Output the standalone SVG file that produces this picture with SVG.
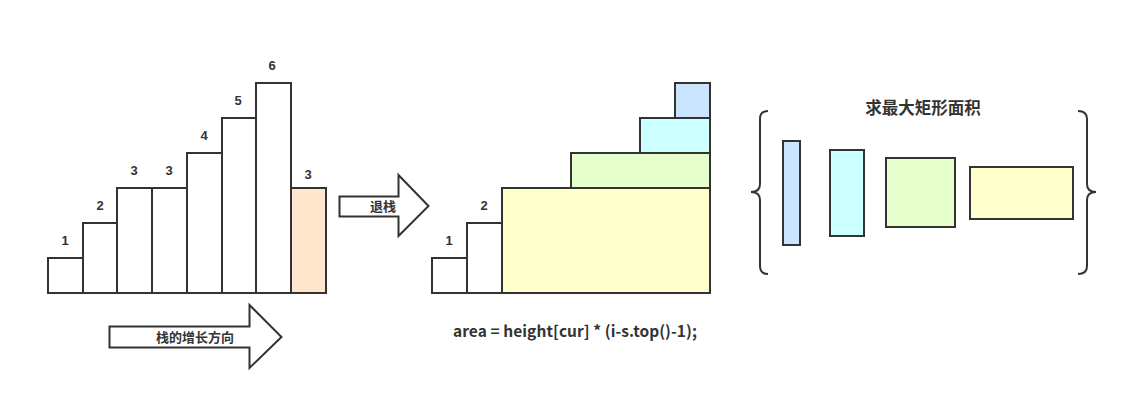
<svg xmlns="http://www.w3.org/2000/svg" width="1127" height="400" viewBox="0 0 1127 400">
<style>
.bar{stroke:#333;stroke-width:2;fill:#fff}
.num{font-family:"Liberation Sans","Noto Sans CJK SC",sans-serif;font-weight:bold;font-size:13px;fill:#333;text-anchor:middle}
.cjk{font-family:"Noto Sans CJK SC",sans-serif;font-weight:bold;fill:#333;text-anchor:middle}
.arrow{fill:#fff;stroke:#333;stroke-width:2;stroke-linejoin:miter}
.brace{fill:none;stroke:#333;stroke-width:2}
</style>
<rect width="1127" height="400" fill="#fff"/>
<g id="stack-left">
<rect class="bar" x="48" y="258" width="35" height="35"/>
<rect class="bar" x="83" y="223" width="34" height="70"/>
<rect class="bar" x="117" y="188" width="35" height="105"/>
<rect class="bar" x="152" y="188" width="35" height="105"/>
<rect class="bar" x="187" y="153" width="35" height="140"/>
<rect class="bar" x="222" y="118" width="34" height="175"/>
<rect class="bar" x="256" y="83" width="35" height="210"/>
<rect class="bar" x="291" y="188" width="35" height="105" style="fill:#FFE6CC"/>
<text class="num" x="65" y="245">1</text>
<text class="num" x="100" y="210">2</text>
<text class="num" x="134" y="175">3</text>
<text class="num" x="169" y="175">3</text>
<text class="num" x="204" y="140">4</text>
<text class="num" x="238" y="105">5</text>
<text class="num" x="272" y="70">6</text>
<text class="num" x="308" y="179">3</text>
</g>
<g id="connectors">
<g id="arrow-grow">
<path class="arrow" d="M109.5,326.5 H249.5 V305 L281.5,337 L249.5,368 V347.5 H109.5 Z"/>
<text class="cjk" x="195" y="342" font-size="13">栈的增长方向</text>
</g>
<g id="arrow-pop">
<path class="arrow" d="M339.5,196.5 H398.5 V175 L428.5,206 L398.5,236 V216.5 H339.5 Z"/>
<text class="cjk" x="383" y="211" font-size="13">退栈</text>
</g>
</g>
<g id="stack-mid">
<rect class="bar" x="432" y="258" width="35" height="35"/>
<rect class="bar" x="467" y="223" width="35" height="70"/>
<rect class="bar" x="502" y="188" width="208" height="105" style="fill:#FFFFCC"/>
<rect class="bar" x="571" y="153" width="139" height="35" style="fill:#E6FFCC"/>
<rect class="bar" x="640" y="118" width="70" height="35" style="fill:#CCFFFF"/>
<rect class="bar" x="675" y="83" width="35" height="35" style="fill:#CCE5FF"/>
<text class="num" x="449" y="245">1</text>
<text class="num" x="484" y="210">2</text>
</g>
<g id="formula">
<text x="575" y="337" font-family="'Noto Sans CJK SC','Liberation Sans',sans-serif" font-weight="bold" font-size="15.5" fill="#333" text-anchor="middle" textLength="244" lengthAdjust="spacing">area = height[cur] * (i-s.top()-1);</text>
</g>
<g id="result">
<text class="cjk" x="923" y="114" font-size="16.5">求最大矩形面积</text>
<path class="brace" d="M768,111 Q760,111 760,119 V184 Q760,192 751,192 Q760,192 760,200 V266 Q760,274 768,274"/>
<path class="brace" d="M1078,111 Q1087,111 1087,119 V184 Q1087,192 1096,192 Q1087,192 1087,200 V266 Q1087,274 1078,274"/>
<rect class="bar" x="783" y="141" width="17" height="104" style="fill:#CCE5FF"/>
<rect class="bar" x="830" y="150" width="34" height="86" style="fill:#CCFFFF"/>
<rect class="bar" x="886" y="158" width="69" height="69" style="fill:#E6FFCC"/>
<rect class="bar" x="970" y="167" width="103" height="52" style="fill:#FFFFCC"/>
</g>
</svg>
